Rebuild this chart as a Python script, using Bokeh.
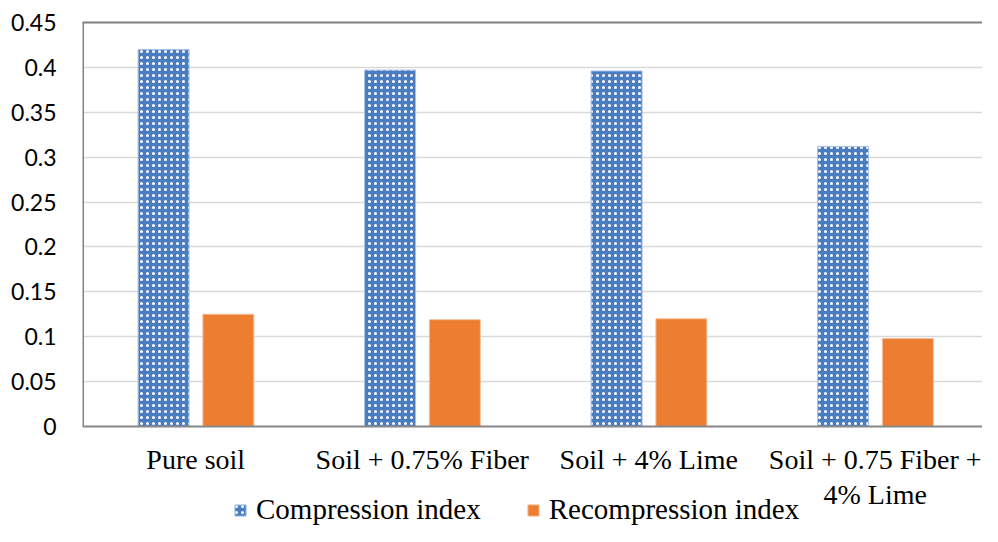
from bokeh.plotting import figure
from bokeh.models import (Range1d, FixedTicker, LinearAxis, Legend, LegendItem,
                          ColumnDataSource)
from bokeh.embed import file_html
from bokeh.resources import INLINE
from bokeh.core.properties import value

# ---- data ----
categories = ["Pure soil", "Soil + 0.75% Fiber", "Soil + 4% Lime",
              "Soil + 0.75 Fiber +\n4% Lime"]
compression = [0.42, 0.397, 0.396, 0.312]
recompression = [0.125, 0.119, 0.12, 0.098]
series_names = ["Compression index", "Recompression index"]
y_ticks = [0, 0.05, 0.1, 0.15, 0.2, 0.25, 0.3, 0.35, 0.4, 0.45]
y_labels = ["0", "0.05", "0.1", "0.15", "0.2", "0.25", "0.3", "0.35", "0.4", "0.45"]

W, H = 982, 526
FRAME_TOP, FRAME_LEFT = 22, 82
AXIS_Y_PX = 426                     # pixel row of value 0
px_per_unit = (AXIS_Y_PX - FRAME_TOP) / y_ticks[-1]
y_start = -(H - AXIS_Y_PX) / px_per_unit
cat_px = 226.5
x_end = (W - FRAME_LEFT) / cat_px

centers = [i + 0.5 for i in range(len(categories))]

src = ColumnDataSource(dict(
    xc=[c - 0.142 for c in centers],
    xr=[c + 0.144 for c in centers],
    comp=compression,
    recomp=recompression,
))
lab_src = ColumnDataSource(dict(x=centers, y=[0] * len(centers), text=categories))

p = figure(width=W, height=H, output_backend="svg", toolbar_location=None,
           x_range=Range1d(0, x_end), y_range=Range1d(y_start, y_ticks[-1]),
           x_axis_location=None,
           min_border_left=FRAME_LEFT, min_border_right=0,
           min_border_top=FRAME_TOP, min_border_bottom=0)
p.outline_line_color = None
p.background_fill_color = "white"

# grid
p.xgrid.visible = False
p.ygrid.ticker = FixedTicker(ticks=y_ticks)
p.ygrid.grid_line_color = "#d9d9d9"
p.ygrid.grid_line_width = 1.5

r1 = p.vbar(x="xc", top="comp", bottom=0, width=0.225, source=src,
            fill_color="#4a7dbf", line_color="#a9c1e4", line_width=1,
            hatch_pattern="dot", hatch_color="white", hatch_scale=6,
            hatch_weight=0.6)
r2 = p.vbar(x="xr", top="recomp", bottom=0, width=0.225, source=src,
            fill_color="#ed7d31", line_color="#f6bf9a", line_width=1)

# plot-area borders: left edge and category axis line at value 0
p.segment(x0=[0], y0=[0], x1=[0], y1=[y_ticks[-1]], line_color="#858585",
          line_width=3)
p.segment(x0=[0], y0=[0], x1=[x_end], y1=[0], line_color="#898989",
          line_width=2)

# category labels (drawn under the value-0 line)
p.text(x="x", y="y", text="text", source=lab_src, text_align="center",
       text_baseline="top", y_offset=17, text_font=value("Liberation Serif"),
       text_font_size="28px", text_color="black", text_line_height=1.15)

# value axis
ya = p.yaxis[0]
ya.ticker = FixedTicker(ticks=y_ticks)
ya.major_label_overrides = {t: l for t, l in zip(y_ticks, y_labels)}
ya.major_tick_line_color = None
ya.minor_tick_line_color = None
ya.major_tick_out = 0
ya.major_tick_in = 0
ya.axis_line_color = None
ya.major_label_text_font = "Lato"
ya.major_label_text_font_size = "23px"
ya.major_label_text_color = "black"
ya.major_label_standoff = 26

top = LinearAxis(ticker=FixedTicker(ticks=[]), axis_line_color="#808080",
                 axis_line_width=2, major_tick_line_color=None,
                 minor_tick_line_color=None, major_label_text_font_size="0px",
                 major_tick_out=0, major_tick_in=0)
p.add_layout(top, "above")

legend = Legend(items=[LegendItem(label=series_names[0], renderers=[r1]),
                       LegendItem(label=series_names[1], renderers=[r2])],
                orientation="horizontal", location=(151, 0),
                border_line_color=None, background_fill_alpha=0,
                padding=0, margin=0, spacing=45, label_standoff=9,
                glyph_width=14, glyph_height=14,
                label_text_font="Liberation Serif",
                label_text_font_size="29px", label_text_color="black")
p.add_layout(legend, "center")

open("out.html", "w").write(file_html(p, INLINE))
